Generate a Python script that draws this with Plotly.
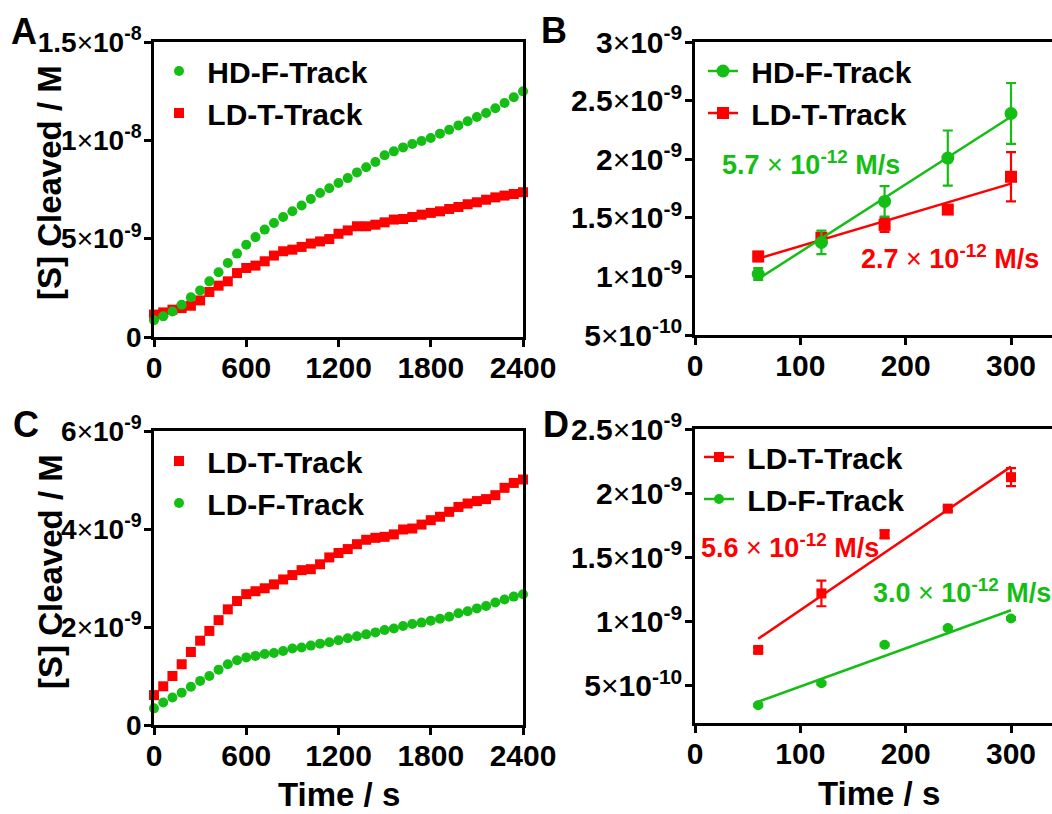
import numpy as np
import plotly.graph_objects as go

W, H = 1052, 814
GREEN = "#14BE14"
RED = "#FF0000"
FONT = "Liberation Sans, Arial, sans-serif"

# ---------------- data (values in units of 1e-9 M) ----------------
time_s = [0, 60, 120, 180, 240, 300, 360, 420, 480, 540, 600, 660, 720, 780, 840,
          900, 960, 1020, 1080, 1140, 1200, 1260, 1320, 1380, 1440, 1500, 1560,
          1620, 1680, 1740, 1800, 1860, 1920, 1980, 2040, 2100, 2160, 2220, 2280,
          2340, 2400]

a_hdf = [0.85, 1.05, 1.30, 1.64, 2.02, 2.37, 2.83, 3.29, 3.76, 4.24, 4.69, 5.08, 5.46,
         5.80, 6.10, 6.39, 6.69, 7.02, 7.32, 7.56, 7.83, 8.08, 8.37, 8.63, 8.90, 9.24,
         9.44, 9.64, 9.81, 9.97, 10.12, 10.34, 10.54, 10.76, 10.97, 11.19, 11.39,
         11.63, 11.90, 12.19, 12.49]
a_ldt = [1.14, 1.25, 1.39, 1.47, 1.59, 1.86, 2.29, 2.61, 2.83, 3.25, 3.51, 3.63, 3.85,
         4.14, 4.36, 4.44, 4.58, 4.75, 4.86, 4.98, 5.25, 5.42, 5.63, 5.63, 5.71, 5.83,
         5.97, 6.00, 6.10, 6.22, 6.31, 6.39, 6.51, 6.61, 6.75, 6.85, 6.98, 7.10, 7.19,
         7.27, 7.36]
c_ldt = [0.61, 0.79, 1.00, 1.24, 1.49, 1.72, 1.92, 2.14, 2.36, 2.53, 2.67, 2.73, 2.79,
         2.87, 2.97, 3.06, 3.16, 3.18, 3.28, 3.42, 3.51, 3.59, 3.69, 3.78, 3.82, 3.84,
         3.89, 3.99, 4.01, 4.09, 4.18, 4.25, 4.35, 4.45, 4.52, 4.57, 4.61, 4.69, 4.84,
         4.94, 5.01]
c_ldf = [0.34, 0.46, 0.56, 0.66, 0.78, 0.90, 1.00, 1.13, 1.24, 1.32, 1.38, 1.41, 1.45,
         1.47, 1.51, 1.56, 1.58, 1.62, 1.66, 1.69, 1.73, 1.77, 1.81, 1.85, 1.89, 1.94,
         1.97, 2.02, 2.06, 2.09, 2.13, 2.17, 2.21, 2.28, 2.32, 2.38, 2.43, 2.50, 2.56,
         2.62, 2.67]

rate_t = [60, 120, 180, 240, 300]
b_hdf = [1.02, 1.29, 1.64, 2.01, 2.39]
b_hdf_err = [0.05, 0.10, 0.13, 0.235, 0.26]
b_ldt = [1.17, 1.33, 1.44, 1.57, 1.85]
b_ldt_err = [0.04, 0.04, 0.06, 0.02, 0.21]
d_ldt = [0.78, 1.22, 1.68, 1.88, 2.125]
d_ldt_err = [0.02, 0.10, 0.03, 0.02, 0.07]
d_ldf = [0.35, 0.52, 0.82, 0.95, 1.025]
d_ldf_err = [0.01, 0.01, 0.01, 0.01, 0.01]

rate_labels = {"b_hdf": ("5.7", "-12"), "b_ldt": ("2.7", "-12"),
               "d_ldt": ("5.6", "-12"), "d_ldf": ("3.0", "-12")}

S = 1e-9
def M(v):
    return np.array(v) * S

def fit(x, y):
    k, b = np.polyfit(x, y, 1)
    xs = np.array([x[0], x[-1]])
    return xs, (k * xs + b) * S

def px(x):
    return x / W

def py(y):
    return 1 - y / H

def sci(m, e):
    return f"{m}<span style='font-weight:normal'>×</span>10<sup>{e}</sup>"

fig = go.Figure()

# ---- Panel A (red drawn first, green on top; legend lists green first) ----
fig.add_trace(go.Scatter(x=time_s, y=M(a_ldt), mode="markers", name="\u00a0LD-T-Track",
                         marker=dict(symbol="square", size=10, color=RED), legendrank=2,
                         cliponaxis=False, xaxis="x", yaxis="y", legend="legend"))
fig.add_trace(go.Scatter(x=time_s, y=M(a_hdf), mode="markers", name="\u00a0HD-F-Track",
                         marker=dict(symbol="circle", size=10, color=GREEN), legendrank=1,
                         cliponaxis=False, xaxis="x", yaxis="y", legend="legend"))

# ---- Panel B ----
for ys, es, col, sym, sz, nm, rk in [(b_ldt, b_ldt_err, RED, "square", 12, "\u00a0LD-T-Track", 2),
                                      (b_hdf, b_hdf_err, GREEN, "circle", 13, "\u00a0HD-F-Track", 1)]:
    fx, fy = fit(rate_t, ys)
    fig.add_trace(go.Scatter(x=fx, y=fy, mode="lines", line=dict(color=col, width=2.5),
                             showlegend=False, xaxis="x2", yaxis="y2", cliponaxis=False))
    fig.add_trace(go.Scatter(x=rate_t, y=M(ys), mode="markers",
                             marker=dict(symbol=sym, size=sz, color=col),
                             error_y=dict(type="data", array=M(es), color=col, thickness=2.2, width=5),
                             showlegend=False, xaxis="x2", yaxis="y2", cliponaxis=False))
    fig.add_trace(go.Scatter(x=[None], y=[None], mode="lines+markers", name=nm,
                             line=dict(color=col, width=2.5), legendrank=rk,
                             marker=dict(symbol=sym, size=sz, color=col),
                             xaxis="x2", yaxis="y2", legend="legend2"))

# ---- Panel C ----
fig.add_trace(go.Scatter(x=time_s, y=M(c_ldt), mode="markers", name="\u00a0LD-T-Track",
                         marker=dict(symbol="square", size=10, color=RED),
                         cliponaxis=False, xaxis="x3", yaxis="y3", legend="legend3"))
fig.add_trace(go.Scatter(x=time_s, y=M(c_ldf), mode="markers", name="\u00a0LD-F-Track",
                         marker=dict(symbol="circle", size=10, color=GREEN),
                         cliponaxis=False, xaxis="x3", yaxis="y3", legend="legend3"))

# ---- Panel D ----
for ys, es, col, sym, sz, nm in [(d_ldt, d_ldt_err, RED, "square", 10, "\u00a0LD-T-Track"),
                                  (d_ldf, d_ldf_err, GREEN, "circle", 10, "\u00a0LD-F-Track")]:
    fx, fy = fit(rate_t, ys)
    fig.add_trace(go.Scatter(x=fx, y=fy, mode="lines", line=dict(color=col, width=2.5),
                             showlegend=False, xaxis="x4", yaxis="y4", cliponaxis=False))
    fig.add_trace(go.Scatter(x=rate_t, y=M(ys), mode="markers",
                             marker=dict(symbol=sym, size=sz, color=col),
                             error_y=dict(type="data", array=M(es), color=col, thickness=2.2, width=5),
                             showlegend=False, xaxis="x4", yaxis="y4", cliponaxis=False))
    fig.add_trace(go.Scatter(x=[None], y=[None], mode="lines+markers", name=nm,
                             line=dict(color=col, width=2.5),
                             marker=dict(symbol=sym, size=sz, color=col),
                             xaxis="x4", yaxis="y4", legend="legend4"))

# ---------------- axes ----------------
def ax(domain, rng, tickvals, ticktext, size, anchor, standoff):
    return dict(domain=domain, range=rng, tickvals=tickvals, ticktext=ticktext,
                showline=True, linecolor="black", linewidth=2.5, mirror=True,
                ticks="outside", ticklen=7, tickwidth=2.5, tickcolor="black",
                showgrid=False, zeroline=False, anchor=anchor, automargin=False,
                ticklabelstandoff=standoff,
                tickfont=dict(family=FONT, size=size, color="black", weight="bold"))

AX = [px(154), px(523)]
BX = [px(695), 1.0]
bx_max = (W - 695) / (1011 - 695) * 300

t_vals = [0, 600, 1200, 1800, 2400]
t_text = [str(v) for v in t_vals]
r_vals = [0, 100, 200, 300]
r_text = [str(v) for v in r_vals]

XS, YS = -5, -3
fig.update_layout(
    xaxis=ax(AX, [0, 2400], t_vals, t_text, 30, "y", XS),
    yaxis=ax([py(337), py(42)], [0, 1.5e-8], [0, 5e-9, 1e-8, 1.5e-8],
             ["0", sci("5", "-9"), sci("1", "-8"), sci("1.5", "-8")], 28, "x", YS),
    xaxis2=ax(BX, [0, bx_max], r_vals, r_text, 30, "y2", XS),
    yaxis2=ax([py(335), py(42)], [5e-10, 3e-9], [5e-10, 1e-9, 1.5e-9, 2e-9, 2.5e-9, 3e-9],
              [sci("5", "-10"), sci("1", "-9"), sci("1.5", "-9"), sci("2", "-9"),
               sci("2.5", "-9"), sci("3", "-9")], 30, "x2", YS),
    xaxis3=ax(AX, [0, 2400], t_vals, t_text, 30, "y3", XS),
    yaxis3=ax([py(725), py(431)], [0, 6e-9], [0, 2e-9, 4e-9, 6e-9],
              ["0", sci("2", "-9"), sci("4", "-9"), sci("6", "-9")], 28, "x3", YS),
    xaxis4=ax(BX, [0, bx_max], r_vals, r_text, 30, "y4", XS),
    yaxis4=ax([py(723), py(429)], [2.11e-10, 2.5e-9], [5e-10, 1e-9, 1.5e-9, 2e-9, 2.5e-9],
              [sci("5", "-10"), sci("1", "-9"), sci("1.5", "-9"), sci("2", "-9"),
               sci("2.5", "-9")], 30, "x4", YS),
)

def leg(xl, yt):
    return dict(x=px(xl), y=py(yt), xanchor="left", yanchor="top",
                bgcolor="rgba(0,0,0,0)", borderwidth=0, traceorder="normal",
                font=dict(family=FONT, size=30, color="black", weight="bold"))

fig.update_layout(
    legend=leg(159, 45), legend2=leg(703, 45), legend3=leg(159, 435), legend4=leg(699, 431),
    width=W, height=H, margin=dict(l=0, r=0, t=0, b=0, autoexpand=False),
    plot_bgcolor="white", paper_bgcolor="white",
    font=dict(family=FONT, color="black"),
)

ann = []
def text(x, y, s, size, color="black", angle=0):
    ann.append(dict(x=px(x), y=py(y), xref="paper", yref="paper", text=s, showarrow=False,
                    xanchor="center", yanchor="middle", textangle=angle,
                    font=dict(family=FONT, size=size, color=color, weight="bold")))

for letter, (lx, ly) in {"A": (24, 32), "B": (554, 31), "C": (26, 424), "D": (556, 424)}.items():
    text(lx, ly, letter, 36)

text(50, 183, "[S] Cleaved / M", 33, angle=-90)
text(50, 572, "[S] Cleaved / M", 33, angle=-90)
text(339, 794, "Time / s", 33)
text(879, 793, "Time / s", 33)

def rate(key):
    m, e = rate_labels[key]
    return f"{m} <span style='font-weight:normal'>×</span> 10<sup>{e}</sup> M/s"

text(811, 163, rate("b_hdf"), 27, GREEN)
text(950, 257, rate("b_ldt"), 27, RED)
text(790, 546, rate("d_ldt"), 27, RED)
text(962, 591, rate("d_ldf"), 27, GREEN)

fig.update_layout(annotations=ann)

fig.write_html("out.html")
